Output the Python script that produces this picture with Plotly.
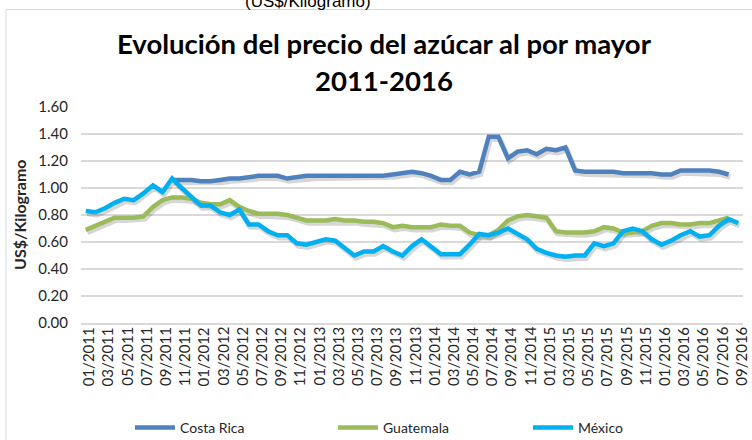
import plotly.graph_objects as go

months = [
    "01/2011","02/2011","03/2011","04/2011","05/2011","06/2011","07/2011","08/2011","09/2011","10/2011","11/2011","12/2011",
    "01/2012","02/2012","03/2012","04/2012","05/2012","06/2012","07/2012","08/2012","09/2012","10/2012","11/2012","12/2012",
    "01/2013","02/2013","03/2013","04/2013","05/2013","06/2013","07/2013","08/2013","09/2013","10/2013","11/2013","12/2013",
    "01/2014","02/2014","03/2014","04/2014","05/2014","06/2014","07/2014","08/2014","09/2014","10/2014","11/2014","12/2014",
    "01/2015","02/2015","03/2015","04/2015","05/2015","06/2015","07/2015","08/2015","09/2015","10/2015","11/2015","12/2015",
    "01/2016","02/2016","03/2016","04/2016","05/2016","06/2016","07/2016","08/2016","09/2016",
]

tick_labels = [
    "01/2011","03/2011","05/2011","07/2011","09/2011","11/2011",
    "01/2012","03/2012","05/2012","07/2012","09/2012","11/2012",
    "01/2013","03/2013","05/2013","07/2013","09/2013","11/2013",
    "01/2014","03/2014","05/2014","07/2014","09/2014","11/2014",
    "01/2015","03/2015","05/2015","07/2015","09/2015","11/2015",
    "01/2016","03/2016","05/2016","07/2016","09/2016",
]

costa_rica = [None] * 9 + [
    1.06, 1.06, 1.06, 1.05, 1.05, 1.06, 1.07, 1.07, 1.08, 1.09,
    1.09, 1.09, 1.07, 1.08, 1.09, 1.09, 1.09, 1.09, 1.09, 1.09,
    1.09, 1.09, 1.09, 1.10, 1.11, 1.12, 1.11, 1.09, 1.06, 1.06,
    1.12, 1.10, 1.12, 1.38, 1.38, 1.22, 1.27, 1.28, 1.25, 1.29,
    1.28, 1.30, 1.13, 1.12, 1.12, 1.12, 1.12, 1.11, 1.11, 1.11,
    1.11, 1.10, 1.10, 1.13, 1.13, 1.13, 1.13, 1.12, 1.10,
] + [None]

guatemala = [
    0.69, 0.72, 0.75, 0.78, 0.78, 0.78, 0.79, 0.86, 0.91, 0.93,
    0.93, 0.92, 0.89, 0.88, 0.88, 0.91, 0.86, 0.83, 0.81, 0.81,
    0.81, 0.80, 0.78, 0.76, 0.76, 0.76, 0.77, 0.76, 0.76, 0.75,
    0.75, 0.74, 0.71, 0.72, 0.71, 0.71, 0.71, 0.73, 0.72, 0.72,
    0.67, 0.65, 0.65, 0.69, 0.76, 0.79, 0.80, 0.79, 0.78, 0.68,
    0.67, 0.67, 0.67, 0.68, 0.71, 0.70, 0.67, 0.67, 0.68, 0.72,
    0.74, 0.74, 0.73, 0.73, 0.74, 0.74, 0.76, 0.78,
] + [None]

mexico = [
    0.83, 0.82, 0.85, 0.89, 0.92, 0.91, 0.96, 1.02, 0.97, 1.07,
    1.00, 0.93, 0.87, 0.87, 0.82, 0.80, 0.84, 0.73, 0.73, 0.68,
    0.65, 0.65, 0.59, 0.58, 0.60, 0.62, 0.61, 0.56, 0.50, 0.53,
    0.53, 0.57, 0.53, 0.50, 0.57, 0.62, 0.57, 0.51, 0.51, 0.51,
    0.58, 0.66, 0.65, 0.67, 0.70, 0.66, 0.62, 0.55, 0.52, 0.50,
    0.49, 0.50, 0.50, 0.59, 0.57, 0.59, 0.68, 0.70, 0.68, 0.62,
    0.58, 0.61, 0.65, 0.68, 0.64, 0.65, 0.72, 0.77, 0.74,
]

y_ticks = [0.0, 0.2, 0.4, 0.6, 0.8, 1.0, 1.2, 1.4, 1.6]

series = [
    ("Costa Rica", costa_rica, "#4F81BD"),
    ("Guatemala", guatemala, "#9BBB59"),
    ("México", mexico, "#00B0F0"),
]

BODY_FONT = "Lato, DejaVu Sans, sans-serif"
TITLE_FONT = "Lato, Roboto, sans-serif"
TXT = "#262626"
GRID = "#D9D9D9"

# plot-area geometry (pixels)
L, R, T, B = 81, 9, 107, 117
PW, PH = 752 - L - R, 440 - T - B
N = len(months)
cat_px = PW / N

# shadow offset (pixels): right / down
SH_DX, SH_DY = 1.5, 2.5
dx = SH_DX / cat_px
dy = SH_DY * 1.6 / PH

fig = go.Figure()
# soft shadows on the base axes (slightly shifted ranges)
for name, vals, color in series:
    fig.add_trace(go.Scatter(
        x=months, y=vals, mode="lines", showlegend=False, hoverinfo="skip",
        line=dict(color="rgba(0,0,0,0.16)", width=5.5),
        xaxis="x", yaxis="y",
    ))
# main series on the overlay axes
legend_ids = ["legend", "legend2", "legend3"]
for (name, vals, color), lg in zip(series, legend_ids):
    fig.add_trace(go.Scatter(
        x=months, y=vals, name=name, mode="lines",
        line=dict(color=color, width=4.5),
        xaxis="x2", yaxis="y2", legend=lg,
    ))

def px_x(p):
    return (p - L) / PW

def px_y(p):
    return (440 - B - p) / PH

legend_common = dict(
    orientation="h", xanchor="left", y=px_y(428), yanchor="middle",
    font=dict(family=BODY_FONT, size=14, color=TXT),
    itemwidth=40, bgcolor="rgba(0,0,0,0)",
)

annotations = [
    dict(text="(US$/Kilogramo)", xref="paper", yref="paper",
         x=px_x(308), y=1.4875, xanchor="center", yanchor="middle",
         showarrow=False, font=dict(family="Liberation Sans, Arial", size=17, color="#000000")),
    dict(text="<b>Evolución del precio del azúcar al por mayor</b>", xref="paper", yref="paper",
         x=px_x(384), y=px_y(43), xanchor="center", yanchor="middle",
         showarrow=False, font=dict(family=TITLE_FONT, size=27.5, color="#000000")),
    dict(text="<b>2011-2016</b>", xref="paper", yref="paper",
         x=px_x(384), y=px_y(80), xanchor="center", yanchor="middle",
         showarrow=False, font=dict(family=TITLE_FONT, size=27.5, color="#000000")),
    dict(text="<b>US$/Kilogramo</b>", xref="paper", yref="paper",
         x=px_x(19), y=0.5, xanchor="center", yanchor="middle", textangle=-90,
         showarrow=False, font=dict(family=BODY_FONT, size=16, color=TXT)),
]
for lab in tick_labels:
    annotations.append(dict(
        text=lab, x=lab, xref="x2", y=0, yref="paper",
        xanchor="center", yanchor="top", textangle=-90, yshift=-2, xshift=2,
        showarrow=False, font=dict(family=BODY_FONT, size=15, color=TXT),
    ))

fig.update_layout(
    width=752, height=440,
    margin=dict(l=L, r=R, t=T, b=B, autoexpand=False),
    paper_bgcolor="white", plot_bgcolor="white",
    showlegend=True,
    legend=dict(x=px_x(130), **legend_common),
    legend2=dict(x=px_x(333), **legend_common),
    legend3=dict(x=px_x(528), **legend_common),
    xaxis=dict(
        type="category", categoryorder="array", categoryarray=months,
        range=[-0.5 - dx, N - 0.5 - dx],
        showticklabels=False, showgrid=False, showline=False, zeroline=False, ticks="",
    ),
    yaxis=dict(
        range=[0 + dy, 1.6 + dy],
        showticklabels=False, showgrid=False, showline=False, zeroline=False, ticks="",
    ),
    xaxis2=dict(
        type="category", categoryorder="array", categoryarray=months,
        overlaying="x", range=[-0.5, N - 0.5],
        showticklabels=False, showgrid=False,
        showline=True, linecolor=GRID, linewidth=1.5,
        ticks="", zeroline=False,
    ),
    yaxis2=dict(
        overlaying="y", side="left",
        range=[0, 1.6], tickmode="array", tickvals=y_ticks,
        tickformat=".2f",
        tickfont=dict(family=BODY_FONT, size=15, color=TXT),
        showgrid=True, gridcolor=GRID, gridwidth=1.5,
        zeroline=False, showline=False, ticks="",
        ticklabelstandoff=12,
    ),
    annotations=annotations,
    shapes=[
        dict(type="rect", xref="paper", yref="paper",
             x0=px_x(6), x1=1.03, y0=-0.6, y1=px_y(9.5),
             line=dict(color=GRID, width=1), fillcolor="rgba(0,0,0,0)", layer="below"),
    ],
)

fig.write_html(
    "out.html",
    config={"displayModeBar": False},
    post_script="document.body.style.margin='0';document.body.style.padding='0';",
)
